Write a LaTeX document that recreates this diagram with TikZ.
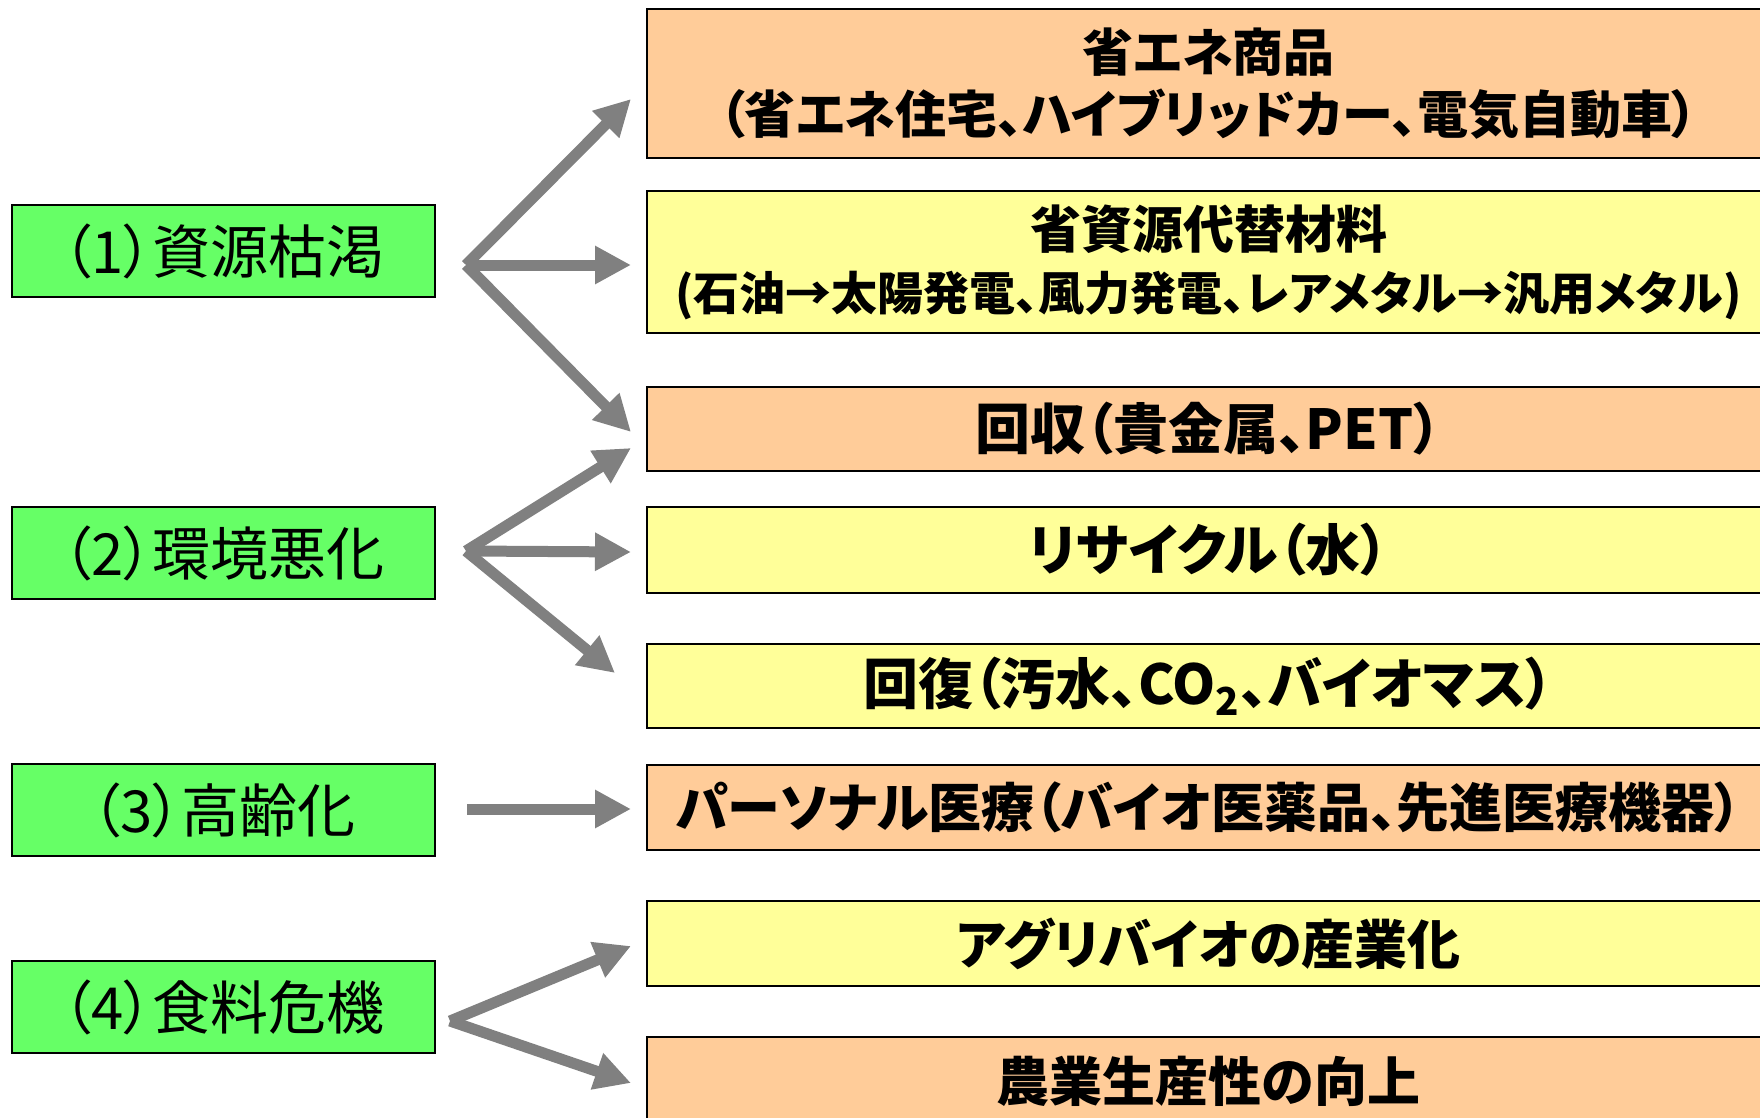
\documentclass[tikz,border=0pt]{standalone}
\usepackage{fontspec}
\setmainfont{Noto Sans CJK JP}[RawFeature=+palt]
\usetikzlibrary{arrows.meta,calc}
\definecolor{boxgreen}{HTML}{66FF66}
\definecolor{boxorange}{HTML}{FFCC99}
\definecolor{boxyellow}{HTML}{FFFF99}
\definecolor{arrowgray}{HTML}{808080}
\begin{document}
\begin{tikzpicture}[x=0.5pt,y=-0.5pt,
  cause/.style={draw=black,line width=1pt,fill=boxgreen,minimum width=211.5pt,minimum height=46pt,inner sep=0pt,font=\fontsize{29pt}{34pt}\selectfont},
  effect/.style={draw=black,line width=1pt,minimum width=561.5pt,inner sep=0pt,align=center,font=\bfseries\fontsize{26.5pt}{31pt}\selectfont},
  arr/.style={draw=arrowgray,line width=5.5pt,-{Triangle[length=18pt,width=18pt]}}]
\useasboundingbox (0,0) rectangle (1760,1118);
\clip (0,0) rectangle (1760,1118);
\fill[white] (0,0) rectangle (1760,1118);
% causes
\node[cause] (L1) at (223.5,251) {（1）資源枯渇};
\node[cause] (L2) at (223.5,553) {（2）環境悪化};
\node[cause] (L3) at (223.5,810) {（3）高齢化};
\node[cause] (L4) at (223.5,1007) {（4）食料危機};
% effects
\node[effect,fill=boxorange,minimum height=74.5pt,font=\bfseries\fontsize{25.5pt}{31pt}\selectfont] (R1) at (1208.5,83.5) {省エネ商品\\（省エネ住宅、ハイブリッドカー、電気自動車）};
\node[effect,fill=boxyellow,minimum height=71pt] (R2) at (1208.5,262) {{\fontsize{25.5pt}{28.5pt}\selectfont 省資源代替材料}\\{\fontsize{23pt}{28.5pt}\selectfont (石油→太陽発電、風力発電、レアメタル→汎用メタル)}};
\node[effect,fill=boxorange,minimum height=42pt,font=\bfseries\fontsize{27.5pt}{31pt}\selectfont] (R3) at (1208.5,429) {回収（貴金属、PET）};
\node[effect,fill=boxyellow,minimum height=43pt,font=\bfseries\fontsize{27.5pt}{31pt}\selectfont] (R4) at (1208.5,550) {リサイクル（水）};
\node[effect,fill=boxyellow,minimum height=42pt,font=\bfseries\fontsize{27.5pt}{31pt}\selectfont] (R5) at (1208.5,686) {回復（汚水、CO\textsubscript{2}、バイオマス）};
\node[effect,fill=boxorange,minimum height=42.5pt] (R6) at (1208.5,807.5) {パーソナル医療（バイオ医薬品、先進医療機器）};
\node[effect,fill=boxyellow,minimum height=42.5pt] (R7) at (1208.5,943.5) {アグリバイオの産業化};
\node[effect,fill=boxorange,minimum height=44pt] (R8) at (1208.5,1081) {農業生産性の向上};
% fan origins
\coordinate (o1) at ($(L1.east)+(30,14)$);
\coordinate (o2) at ($(L2.east)+(30,-2)$);
\coordinate (o3) at ($(L3.east)+(31,-1)$);
\coordinate (o4) at ($(L4.east)+(14,14)$);
% arrows
\draw[arr] (o1) -- ($(R1.west)+(-15,15.5)$);
\draw[arr] (o1) -- ($(R2.west)+(-15,3)$);
\draw[arr] (o1) -- ($(R3.west)+(-15,3)$);
\draw[arr] (o2) -- ($(R3.west)+(-15,19)$);
\draw[arr] (o2) -- ($(R4.west)+(-15,2)$);
\draw[arr] (o2) -- ($(R5.west)+(-31,-13)$);
\draw[arr] (o3) -- ($(R6.west)+(-15,1.5)$);
\draw[arr] (o4) -- ($(R7.west)+(-15,2.5)$);
\draw[arr] (o4) -- ($(R8.west)+(-15,2)$);
\end{tikzpicture}
\end{document}
